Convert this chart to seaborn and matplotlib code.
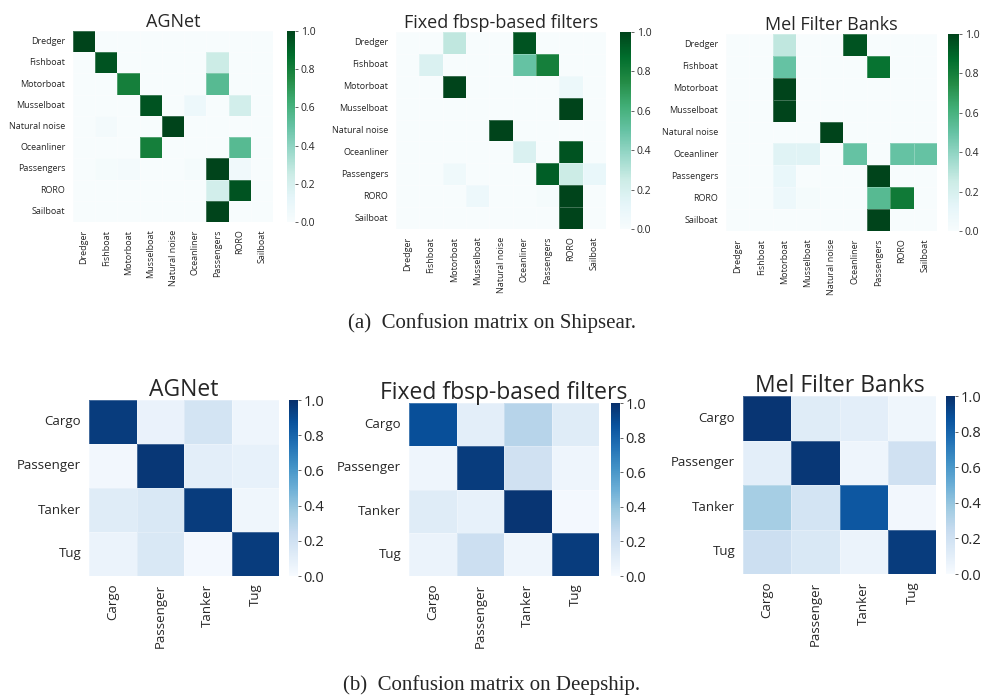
import numpy as np
import pandas as pd
import seaborn as sns
import matplotlib.pyplot as plt

# data
ship_classes = ["Dredger", "Fishboat", "Motorboat", "Musselboat", "Natural noise",
                "Oceanliner", "Passengers", "RORO", "Sailboat"]
deep_classes = ["Cargo", "Passenger", "Tanker", "Tug"]
titles = ["AGNet", "Fixed fbsp-based filters", "Mel Filter Banks"]

ship_agnet = [
    [1.00, 0, 0, 0, 0, 0, 0, 0, 0],
    [0, 0.95, 0, 0, 0, 0, 0.25, 0, 0],
    [0, 0, 0.80, 0, 0, 0, 0.55, 0, 0],
    [0, 0, 0, 0.95, 0, 0.07, 0, 0.22, 0],
    [0, 0.03, 0, 0, 1.00, 0, 0, 0, 0],
    [0, 0, 0, 0.80, 0, 0, 0, 0.55, 0],
    [0, 0.02, 0.03, 0, 0, 0.02, 1.00, 0.05, 0],
    [0, 0, 0, 0, 0, 0, 0.22, 0.95, 0],
    [0, 0, 0, 0, 0, 0, 1.00, 0, 0],
]
ship_fbsp = [
    [0, 0, 0.28, 0, 0, 0.95, 0, 0, 0],
    [0, 0.18, 0, 0, 0, 0.50, 0.80, 0, 0],
    [0, 0, 1.00, 0, 0, 0, 0, 0.08, 0],
    [0, 0, 0, 0, 0, 0, 0, 1.00, 0],
    [0, 0, 0, 0, 1.00, 0, 0, 0, 0],
    [0, 0, 0, 0, 0, 0.18, 0, 0.95, 0],
    [0, 0, 0.06, 0, 0, 0, 0.92, 0.25, 0.10],
    [0, 0, 0, 0.07, 0, 0, 0.02, 1.00, 0],
    [0, 0, 0, 0, 0, 0, 0, 1.00, 0],
]
ship_mel = [
    [0, 0, 0.28, 0, 0, 0.95, 0, 0, 0],
    [0, 0, 0.50, 0, 0, 0, 0.85, 0, 0],
    [0, 0, 1.00, 0, 0, 0, 0, 0, 0],
    [0, 0, 1.00, 0, 0, 0, 0, 0, 0],
    [0, 0, 0, 0, 1.00, 0, 0, 0, 0],
    [0, 0, 0.15, 0.15, 0, 0.50, 0, 0.50, 0.50],
    [0, 0, 0.10, 0, 0, 0, 1.00, 0, 0],
    [0, 0, 0.07, 0.02, 0, 0, 0.55, 0.82, 0],
    [0, 0, 0, 0, 0, 0, 1.00, 0, 0],
]

deep_agnet = [
    [0.95, 0.07, 0.18, 0.05],
    [0.03, 0.97, 0.10, 0.08],
    [0.12, 0.15, 0.95, 0.04],
    [0.06, 0.15, 0.02, 0.95],
]
deep_fbsp = [
    [0.88, 0.10, 0.30, 0.12],
    [0.05, 0.95, 0.20, 0.05],
    [0.12, 0.08, 0.98, 0.02],
    [0.06, 0.22, 0.05, 0.95],
]
deep_mel = [
    [0.98, 0.12, 0.10, 0.04],
    [0.10, 0.97, 0.05, 0.20],
    [0.35, 0.18, 0.85, 0.03],
    [0.22, 0.15, 0.06, 0.95],
]

sns.set_style("white")
plt.rcParams["font.family"] = ["Open Sans", "DejaVu Sans"]

fig = plt.figure(figsize=(9.84, 6.97), dpi=100)
W, H = 984, 697

def box(x0, y0, x1, y1):
    return [x0 / W, 1 - y1 / H, (x1 - x0) / W, (y1 - y0) / H]

# pixel boxes: (heatmap x0, y0, x1, y1, cbar x0, cbar x1)
top_boxes = [(73, 31, 273, 222, 287, 295), (396, 32, 606, 229, 620, 631), (726, 34, 937, 231, 948, 959)]
bot_boxes = [(89, 400, 279, 576, 289, 298), (409, 403, 599, 576, 611, 620), (743, 396, 936, 574, 946, 955)]

def draw(mat, classes, title, b, cmap, fs_tick, fs_title, fs_cb):
    ax = fig.add_axes(box(b[0], b[1], b[2], b[3]))
    cax = fig.add_axes(box(b[4], b[1], b[5], b[3]))
    df = pd.DataFrame(mat, index=classes, columns=classes)
    sns.heatmap(df, ax=ax, cbar_ax=cax, cmap=cmap, vmin=0, vmax=1,
                linewidths=0.4, linecolor="#ffffff40")
    ax.set_title(title, fontsize=fs_title, pad=3)
    ax.tick_params(axis="both", length=2, width=0.5, color="#999999", labelsize=fs_tick)
    ax.set_xticklabels(classes, rotation=90)
    ax.set_yticklabels(classes, rotation=0)
    cax.tick_params(labelsize=fs_cb, length=2, width=0.5, pad=2)
    cax.set_yticks([0, 0.2, 0.4, 0.6, 0.8, 1.0])
    for s in cax.spines.values():
        s.set_visible(False)
    return ax

for mat, t, b in zip([ship_agnet, ship_fbsp, ship_mel], titles, top_boxes):
    draw(mat, ship_classes, t, b, "BuGn", 6.5, 13, 7.5)

for mat, t, b in zip([deep_agnet, deep_fbsp, deep_mel], titles, bot_boxes):
    draw(mat, deep_classes, t, b, "Blues", 9.5, 16.5, 10.5)

fig.text(0.5, 1 - 323 / H, "(a)  Confusion matrix on Shipsear.", ha="center", va="center",
         fontsize=15, family=["Liberation Serif", "DejaVu Serif"])
fig.text(0.5, 1 - 685 / H, "(b)  Confusion matrix on Deepship.", ha="center", va="center",
         fontsize=15, family=["Liberation Serif", "DejaVu Serif"])

fig.savefig("out.png", dpi=100)
